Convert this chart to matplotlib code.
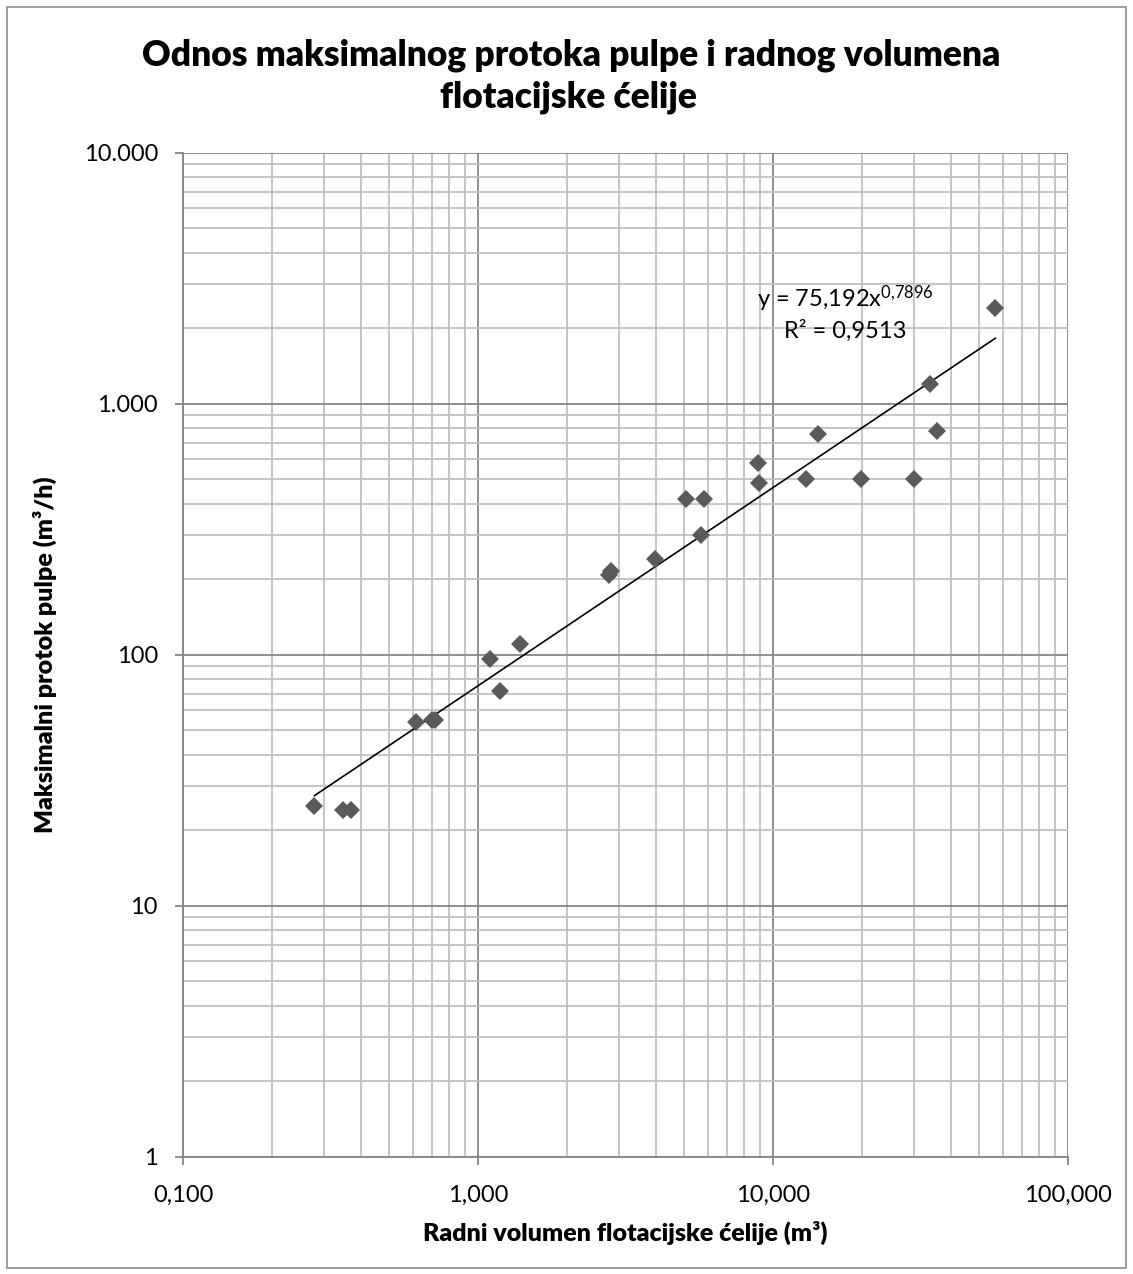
import matplotlib
matplotlib.use("Agg")
import matplotlib.pyplot as plt
import numpy as np
from matplotlib.patches import Rectangle
from matplotlib.ticker import FixedLocator, LogLocator, NullFormatter

plt.rcParams['font.family'] = ['Lato', 'DejaVu Sans']
plt.rcParams['mathtext.fontset'] = 'custom'
plt.rcParams['mathtext.rm'] = 'Lato'
plt.rcParams['mathtext.it'] = 'Lato:italic'
plt.rcParams['mathtext.bf'] = 'Lato:bold'

# Data
volume = [0.279, 0.348, 0.371, 0.618, 0.700, 0.715, 1.094, 1.19, 1.39,
          2.78, 2.83, 3.99, 5.08, 5.69, 5.82, 8.89, 8.99, 12.97, 14.2,
          19.9, 29.97, 33.96, 35.97, 56.7]
flow = [25.0, 24.0, 24.0, 54.0, 55.0, 55.0, 96.0, 72.0, 110.0,
        208.0, 216.0, 241.0, 416.0, 300.0, 418.0, 582.0, 482.0, 500.0, 760.0,
        500.0, 500.0, 1202.0, 780.0, 2400.0]

# Power trendline: y = a * x^b
trend_a = 75.192
trend_b = 0.7896
trend_r2_text = "R² = 0,9513"
trend_eq_text = r"y = 75,192x$^{\mathrm{0{,}7896}}$"

x_ticks = [0.1, 1, 10, 100]
x_tick_labels = ['0,100', '1,000', '10,000', '100,000']
y_ticks = [1, 10, 100, 1000, 10000]
y_tick_labels = ['1', '10', '100', '1.000', '10.000']

title_lines = ["Odnos maksimalnog protoka pulpe i radnog volumena",
               "flotacijske ćelije"]
xlabel = "Radni volumen flotacijske ćelije (m³)"
ylabel = "Maksimalni protok pulpe (m³/h)"

W, H = 1133, 1274
fig = plt.figure(figsize=(W / 100, H / 100), dpi=100)
fig.patch.set_facecolor('white')


def fx(px):
    return px / W


def fy(py):
    return 1 - py / H


# outer chart border
fig.patches.append(Rectangle((fx(7), fy(1268)), (1126 - 7) / W, (1268 - 7) / H,
                             transform=fig.transFigure, fill=False,
                             edgecolor='#8c8c8c', linewidth=1.2))

left, right, top, bottom = 183, 1068, 152.7, 1156.7
ax = fig.add_axes([fx(left), fy(bottom), (right - left) / W, (bottom - top) / H])
ax.set_xscale('log')
ax.set_yscale('log')
ax.set_xlim(0.1, 100)
ax.set_ylim(1, 10000)

ax.xaxis.set_major_locator(FixedLocator(x_ticks))
ax.yaxis.set_major_locator(FixedLocator(y_ticks))
ax.set_xticklabels(x_tick_labels)
ax.set_yticklabels(y_tick_labels)
ax.xaxis.set_minor_locator(LogLocator(base=10, subs=np.arange(2, 10)))
ax.yaxis.set_minor_locator(LogLocator(base=10, subs=np.arange(2, 10)))
ax.xaxis.set_minor_formatter(NullFormatter())
ax.yaxis.set_minor_formatter(NullFormatter())

ax.grid(which='minor', color='#c0c0c0', linewidth=1.3)
ax.grid(which='major', color='#868686', linewidth=1.3)
ax.set_axisbelow(True)

for side in ['top', 'right']:
    ax.spines[side].set_visible(False)
for side in ['left', 'bottom']:
    ax.spines[side].set_color('#868686')
    ax.spines[side].set_linewidth(1.3)

ax.tick_params(which='major', direction='out', length=6, width=1.3, color='#868686',
               labelsize=17, labelcolor='black')
ax.tick_params(axis='x', which='major', pad=14)
ax.tick_params(axis='y', which='major', pad=12)
ax.tick_params(which='minor', length=0)

# trendline
xt = np.geomspace(min(volume), max(volume), 50)
ax.plot(xt, trend_a * xt ** trend_b, color='black', linewidth=1.2, zorder=3)

ax.plot(volume, flow, linestyle='none', marker='D', markersize=9.5,
        color='#5a5a5a', markeredgewidth=0, zorder=4)

fig.text(fx(845), fy(307), trend_eq_text, ha='center', va='baseline', fontsize=17)
fig.text(fx(845), fy(338), trend_r2_text, ha='center', va='baseline', fontsize=17)

fig.text(fx(571), fy(65), title_lines[0], ha='center', va='baseline', fontsize=25.5,
         fontweight='heavy')
fig.text(fx(568), fy(107), title_lines[1], ha='center', va='baseline', fontsize=25.5,
         fontweight='heavy')
fig.text(fx(625), fy(1233), xlabel, ha='center', va='center', fontsize=18,
         fontweight='heavy')
fig.text(fx(45), fy(655), ylabel, ha='center', va='center', fontsize=18,
         fontweight='heavy', rotation=90)

fig.savefig('out.png', dpi=100)
